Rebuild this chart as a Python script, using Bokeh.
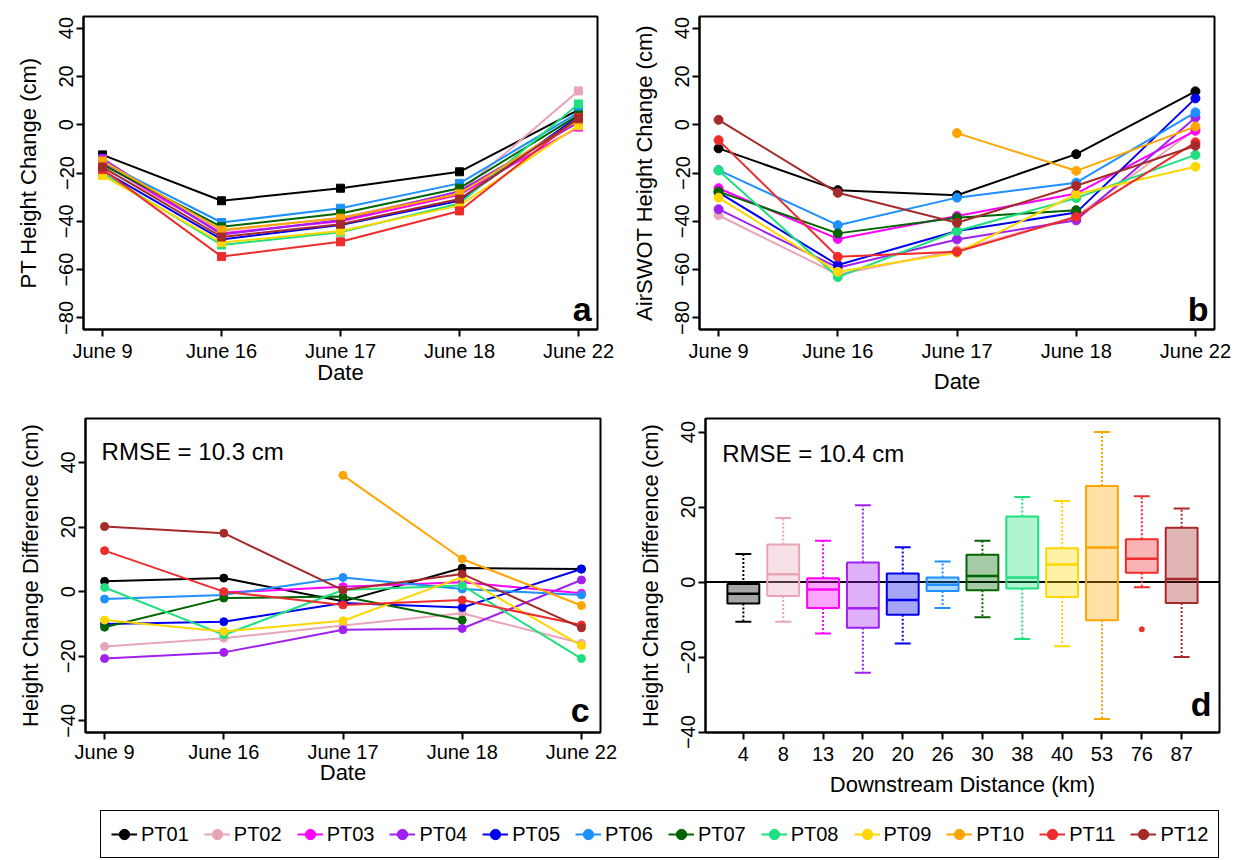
import math
from bokeh.plotting import figure
from bokeh.layouts import column, row
from bokeh.models import (FixedTicker, Range1d, Label, Legend, LegendItem, Span,
                          ColumnDataSource)
from bokeh.embed import file_html
from bokeh.resources import INLINE

FONT = "Liberation Sans"
nan = float("nan")

# ---------------- data ----------------
dates = ["June 9", "June 16", "June 17", "June 18", "June 22"]
sensors = ["PT01", "PT02", "PT03", "PT04", "PT05", "PT06",
           "PT07", "PT08", "PT09", "PT10", "PT11", "PT12"]
colors = ["#000000", "#E9A5B8", "#FF00FF", "#A020F0", "#0000EE", "#1E90FF",
          "#006400", "#1FE07F", "#FFD700", "#FFA500", "#EE2C2C", "#A52A2A"]

# Panel a: PT height change (cm)
pt_PT01 = [-12.5, -31.5, -26.3, -19.5, 6.1]
pt_PT02 = [-18.0, -44.0, -38.5, -28.0, 14.0]
pt_PT03 = [-16.0, -45.0, -40.0, -29.0, -1.0]
pt_PT04 = [-14.0, -45.5, -39.5, -27.5, 1.0]
pt_PT05 = [-19.0, -47.5, -41.5, -31.5, 3.5]
pt_PT06 = [-15.5, -40.5, -34.6, -24.3, 5.0]
pt_PT07 = [-16.5, -42.3, -36.8, -26.3, 4.0]
pt_PT08 = [-20.0, -49.8, -44.5, -32.6, 8.6]
pt_PT09 = [-21.0, -48.8, -44.0, -33.5, -0.4]
pt_PT10 = [-15.0, -43.6, -38.7, -28.6, 2.0]
pt_PT11 = [-18.5, -54.6, -48.5, -35.7, 3.0]
pt_PT12 = [-17.5, -46.5, -41.2, -30.8, 2.5]

# Panel b: AirSWOT height change (cm)
as_PT01 = [-9.8, -27.1, -29.2, -12.2, 13.8]
as_PT02 = [-37.5, -62.0, -52.0, -38.0, -2.0]
as_PT03 = [-26.3, -47.3, -37.8, -28.5, -2.5]
as_PT04 = [-35.0, -59.2, -47.5, -39.6, 3.0]
as_PT05 = [-28.0, -58.1, -44.0, -36.4, 10.9]
as_PT06 = [-18.8, -41.6, -30.2, -24.0, 5.1]
as_PT07 = [-27.7, -45.0, -38.5, -35.4, nan]
as_PT08 = [-19.0, -63.1, -44.0, -30.4, -12.5]
as_PT09 = [-30.2, -60.9, -53.0, -28.8, -17.4]
as_PT10 = [nan, nan, -3.5, -19.1, -0.8]
as_PT11 = [-6.4, -54.7, -52.6, -38.2, -7.3]
as_PT12 = [2.0, -28.2, -40.6, -25.3, -8.7]

# Panel c: height change difference (cm)
df_PT01 = [3.2, 4.2, -3.0, 7.3, 7.0]
df_PT02 = [-17.0, -14.4, -10.5, -6.7, -16.0]
df_PT03 = [nan, -0.3, 1.5, 2.9, -0.5]
df_PT04 = [-20.7, -18.8, -11.8, -11.4, 3.6]
df_PT05 = [-10.0, -9.3, -3.5, -4.9, 7.0]
df_PT06 = [-2.3, -1.0, 4.4, 0.8, -1.0]
df_PT07 = [-11.0, -2.0, -1.5, -8.8, nan]
df_PT08 = [1.3, -13.4, 0.5, 1.9, -20.7]
df_PT09 = [-8.8, -12.3, -9.0, 4.5, -16.7]
df_PT10 = [nan, nan, 36.0, 10.1, -4.3]
df_PT11 = [12.7, 0.0, -4.1, -2.6, -10.3]
df_PT12 = [20.2, 18.1, 0.5, 5.5, -11.2]

pt_series = [pt_PT01, pt_PT02, pt_PT03, pt_PT04, pt_PT05, pt_PT06,
             pt_PT07, pt_PT08, pt_PT09, pt_PT10, pt_PT11, pt_PT12]
as_series = [as_PT01, as_PT02, as_PT03, as_PT04, as_PT05, as_PT06,
             as_PT07, as_PT08, as_PT09, as_PT10, as_PT11, as_PT12]
df_series = [df_PT01, df_PT02, df_PT03, df_PT04, df_PT05, df_PT06,
             df_PT07, df_PT08, df_PT09, df_PT10, df_PT11, df_PT12]

# Panel d: boxplot statistics per sensor (cm)
distance_labels = ["4", "8", "13", "20", "20", "26", "30", "38", "40", "53", "76", "87"]
whisker_low = [-10.6, -10.6, -13.7, -24.2, -16.4, -6.9, -9.4, -15.2, -17.1, -36.5, -1.4, -20.0]
q1 = [-5.7, -3.7, -6.9, -12.2, -8.7, -2.4, -2.2, -1.7, -4.0, -10.2, 2.5, -5.6]
median = [-3.1, 2.1, -2.0, -7.0, -4.8, -0.7, 1.6, 1.2, 4.7, 9.2, 6.2, 0.8]
q3 = [-0.5, 10.0, 1.0, 5.2, 2.3, 1.2, 7.3, 17.5, 9.0, 25.6, 11.4, 14.5]
whisker_high = [7.5, 17.1, 11.0, 20.5, 9.3, 5.5, 11.0, 22.7, 21.6, 40.0, 22.9, 19.6]
outlier_box = [11]
outlier_value = [-12.6]

rmse_c = "RMSE = 10.3 cm"
rmse_d = "RMSE = 10.4 cm"

MINUS = "\u2212"


def fmt(v):
    return (MINUS + str(abs(v))) if v < 0 else str(v)


def make_fig(width, height, xr, yr, lb, rb, tb, bb):
    p = figure(width=width, height=height, x_range=Range1d(*xr), y_range=Range1d(*yr),
               output_backend="svg", toolbar_location=None,
               min_border_left=lb, min_border_right=rb,
               min_border_top=tb, min_border_bottom=bb)
    p.grid.visible = False
    p.outline_line_color = "black"
    p.outline_line_width = 2
    p.outline_line_alpha = 1
    p.background_fill_color = "white"
    p.border_fill_color = "white"
    for ax in p.axis:
        ax.axis_line_color = "black"
        ax.axis_line_width = 2
        ax.major_tick_line_color = "black"
        ax.major_tick_line_width = 2
        ax.major_tick_out = 7
        ax.major_tick_in = 0
        ax.minor_tick_line_color = None
        ax.major_label_text_font = FONT
        ax.major_label_text_font_size = "20px"
        ax.major_label_text_color = "black"
        ax.axis_label_text_font = FONT
        ax.axis_label_text_font_size = "22px"
        ax.axis_label_text_font_style = "normal"
        ax.axis_label_text_color = "black"
    p.yaxis.major_label_orientation = "parallel"
    p.yaxis.major_label_standoff = 3
    p.yaxis.axis_label_standoff = 16
    p.xaxis.major_label_standoff = 3
    p.xaxis.axis_label_standoff = 4
    return p


def set_yticks(p, ticks):
    p.yaxis.ticker = FixedTicker(ticks=ticks)
    p.yaxis.major_label_overrides = {t: fmt(t) for t in ticks}


def set_dates(p):
    pos = list(range(1, len(dates) + 1))
    p.xaxis.ticker = FixedTicker(ticks=pos)
    p.xaxis.major_label_overrides = {i: d for i, d in zip(pos, dates)}


def corner_letter(p, x, y, txt):
    p.add_layout(Label(x=x, y=y, text=txt, text_align="right", text_baseline="bottom",
                       text_font=FONT, text_font_size="34px", text_font_style="bold",
                       text_color="black"))


xpos = list(range(1, len(dates) + 1))
XR = (0.84, 5.16)

# ---------------- panel a ----------------
pa = make_fig(620, 399, XR, (-84.8, 44.8), 83, 23, 16, 70)
set_yticks(pa, [-80, -60, -40, -20, 0, 20, 40])
set_dates(pa)
pa.yaxis.axis_label = "PT Height Change (cm)"
pa.xaxis.axis_label = "Date"
pa.xaxis.axis_label_standoff = -5
for s, c in zip(pt_series, colors):
    pa.line(xpos, s, line_color=c, line_width=2)
    pa.scatter(xpos, s, marker="square", size=8, fill_color=c, line_color=c)
corner_letter(pa, 5.11, -84.0, "a")

# ---------------- panel b ----------------
pb = make_fig(618, 399, XR, (-84.8, 44.8), 79, 24, 16, 70)
set_yticks(pb, [-80, -60, -40, -20, 0, 20, 40])
set_dates(pb)
pb.yaxis.axis_label = "AirSWOT Height Change (cm)"
pb.xaxis.axis_label = "Date"
for s, c in zip(as_series, colors):
    pb.line(xpos, s, line_color=c, line_width=2)
    pb.scatter(xpos, s, marker="circle", size=9, fill_color=c, line_color=c)
corner_letter(pb, 5.11, -84.0, "b")

# ---------------- panel c ----------------
pc = make_fig(622, 403, XR, (-43.6, 53.6), 85, 22, 19, 70)
set_yticks(pc, [-40, -20, 0, 20, 40])
set_dates(pc)
pc.yaxis.axis_label = "Height Change Difference (cm)"
pc.xaxis.axis_label = "Date"
pc.xaxis.major_label_standoff = 1
pc.xaxis.axis_label_standoff = -6
for s, c in zip(df_series, colors):
    pc.line(xpos, s, line_color=c, line_width=2)
    pc.scatter(xpos, s, marker="circle", size=8, fill_color=c, line_color=c)
pc.add_layout(Label(x=0.975, y=43.4, text=rmse_c, text_align="left", text_baseline="middle",
                    text_font=FONT, text_font_size="24px", text_color="black"))
corner_letter(pc, 5.07, -42.5, "c")

# ---------------- panel d ----------------
nb = len(distance_labels)
bpos = list(range(1, nb + 1))
pd_ = make_fig(616, 403, (0.05, 12.95), (-40.1, 43.6), 83, 19, 15, 67)
set_yticks(pd_, [-40, -20, 0, 20, 40])
pd_.xaxis.ticker = FixedTicker(ticks=bpos)
pd_.xaxis.major_label_overrides = {i: l for i, l in zip(bpos, distance_labels)}
pd_.yaxis.axis_label = "Height Change Difference (cm)"
pd_.xaxis.axis_label = "Downstream Distance (km)"
pd_.xaxis.major_label_standoff = 7
pd_.xaxis.axis_label_standoff = 8
pd_.add_layout(Span(location=0, dimension="width", line_color="black", line_width=2,
                    level="underlay"))
BW = 0.8
CAP = 0.4
src = ColumnDataSource(dict(
    x=bpos, lo=whisker_low, q1=q1, med=median, q3=q3, hi=whisker_high, color=colors,
    xl=[b - BW / 2 for b in bpos], xr=[b + BW / 2 for b in bpos],
    cl=[b - CAP / 2 for b in bpos], cr=[b + CAP / 2 for b in bpos],
))
pd_.segment(x0="x", y0="q3", x1="x", y1="hi", source=src, line_color="color",
            line_width=2, line_dash="2 2")
pd_.segment(x0="x", y0="q1", x1="x", y1="lo", source=src, line_color="color",
            line_width=2, line_dash="2 2")
pd_.segment(x0="cl", y0="hi", x1="cr", y1="hi", source=src, line_color="color", line_width=2)
pd_.segment(x0="cl", y0="lo", x1="cr", y1="lo", source=src, line_color="color", line_width=2)
pd_.vbar(x="x", width=BW, bottom="q1", top="q3", source=src, fill_color="color",
         fill_alpha=0.35, line_color="color", line_width=2)
pd_.segment(x0="xl", y0="med", x1="xr", y1="med", source=src, line_color="color",
            line_width=2.5)
pd_.scatter(outlier_box, outlier_value, marker="circle", size=5,
            fill_color=[colors[b - 1] for b in outlier_box],
            line_color=[colors[b - 1] for b in outlier_box])
pd_.add_layout(Label(x=0.47, y=34.3, text=rmse_d, text_align="left", text_baseline="middle",
                     text_font=FONT, text_font_size="24px", text_color="black"))
corner_letter(pd_, 12.75, -37.5, "d")

# ---------------- legend ----------------
pl = figure(width=1238, height=58, x_range=Range1d(0, 1), y_range=Range1d(0, 1),
            output_backend="svg", toolbar_location=None, x_axis_type=None, y_axis_type=None,
            min_border_left=0, min_border_right=0, min_border_top=0, min_border_bottom=0)
pl.grid.visible = False
pl.outline_line_color = None
items = []
for s, c in zip(sensors, colors):
    r1 = pl.line(x=[-5, -4], y=[-5, -4], line_color=c, line_width=2)
    r2 = pl.scatter(x=[-5, -4], y=[-5, -4], marker="circle", size=9, fill_color=c, line_color=c)
    items.append(LegendItem(label=s, renderers=[r1, r2]))
leg = Legend(items=items, orientation="horizontal", location=(100, 2),
             border_line_color="black", border_line_width=1.5, border_line_alpha=1,
             background_fill_color="white", background_fill_alpha=1,
             padding=10, spacing=15, margin=0, glyph_width=26, glyph_height=26,
             label_standoff=4, label_text_font=FONT, label_text_font_size="20px",
             label_text_color="black")
pl.add_layout(leg)

layout = column(row(pa, pb), row(pc, pd_), pl)
open("out.html", "w").write(file_html(layout, INLINE))
